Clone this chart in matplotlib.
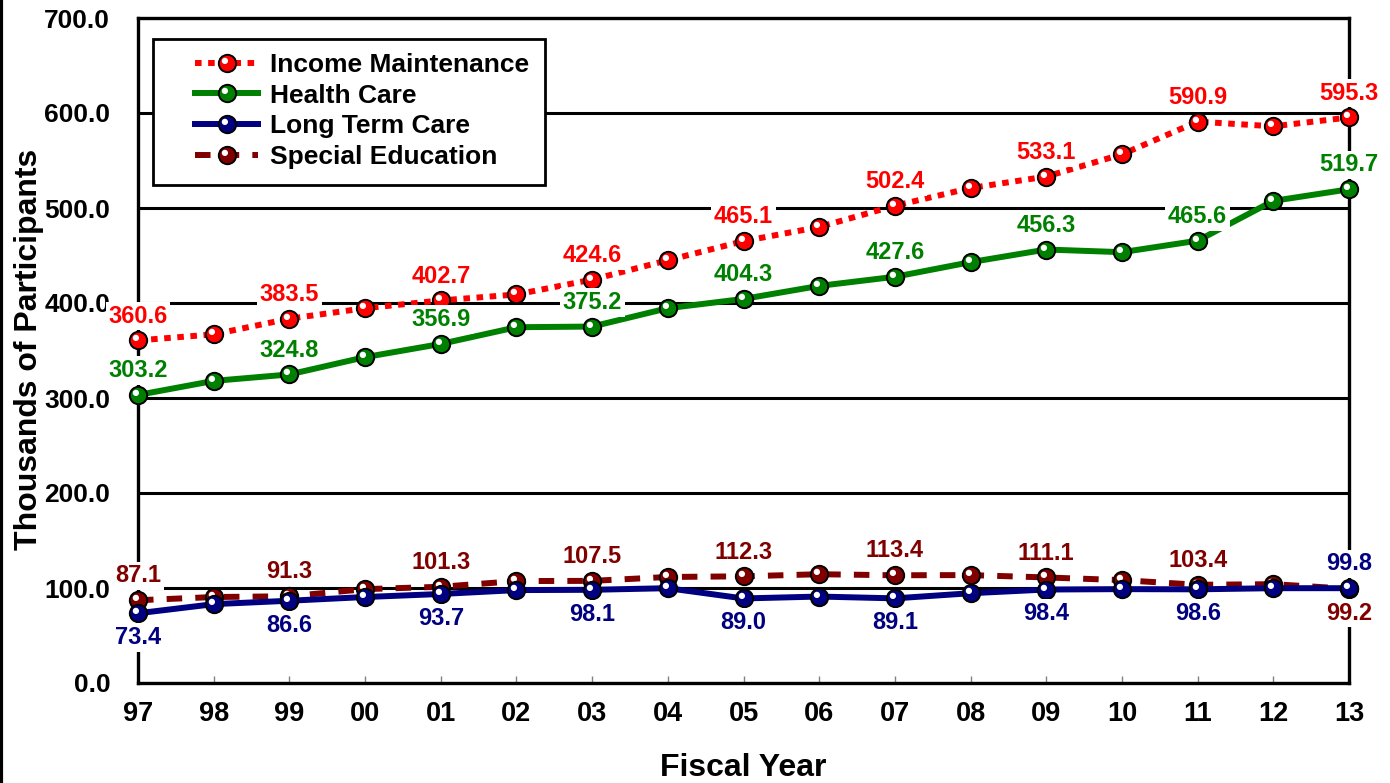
import numpy as np
import matplotlib
matplotlib.use('Agg')
import matplotlib.pyplot as plt
from matplotlib.path import Path
from matplotlib.patches import Rectangle
from matplotlib.lines import Line2D
from matplotlib.legend_handler import HandlerTuple

plt.rcParams['font.family'] = ['Liberation Sans', 'DejaVu Sans']
plt.rcParams['font.weight'] = 'bold'

years = ['97', '98', '99', '00', '01', '02', '03', '04', '05',
         '06', '07', '08', '09', '10', '11', '12', '13']

income = [360.6, 367.0, 383.5, 394.5, 402.7, 409.0, 424.6, 445.0, 465.1,
          480.0, 502.4, 521.0, 533.1, 556.5, 590.9, 586.0, 595.3]
health = [303.2, 318.0, 324.8, 343.0, 356.9, 374.5, 375.2, 394.5, 404.3,
          418.0, 427.6, 443.0, 456.3, 453.5, 465.6, 507.5, 519.7]
long_term = [73.4, 83.0, 86.6, 90.5, 93.7, 97.8, 98.1, 99.8, 89.0,
             91.0, 89.1, 94.5, 98.4, 98.8, 98.6, 99.8, 99.8]
special_ed = [87.1, 90.5, 91.3, 98.8, 101.3, 107.3, 107.5, 111.6, 112.3,
              114.5, 113.4, 113.6, 111.1, 108.3, 103.4, 104.0, 99.2]

# (label, values, colour, linestyle, label side: +1 above / -1 below)
series = [
    ('Income Maintenance', income, '#FF0000', (0, (1.1, 1.1)), 1),
    ('Health Care', health, '#008000', '-', 1),
    ('Long Term Care', long_term, '#000080', '-', -1),
    ('Special Education', special_ed, '#800000', (0, (2.6, 2.2)), 1),
]
zorders = {'Income Maintenance': 4, 'Health Care': 4,
           'Long Term Care': 4.2, 'Special Education': 4.1}

# small white highlight for the "glass ball" markers
circ = Path.circle((-0.3, 0.3), 0.36)
hl_verts = np.vstack([[[-1, -1], [1, 1]], circ.vertices])
hl_codes = [Path.MOVETO, Path.MOVETO] + list(circ.codes)
HIGHLIGHT = Path(hl_verts, hl_codes)

fig = plt.figure(figsize=(13.9, 7.83), dpi=100)
ax = fig.add_axes([138 / 1390, 1 - 683 / 783, (1349 - 138) / 1390, (683 - 18) / 783])

x = np.arange(len(years))
handles = []
for name, vals, col, ls, side in series:
    z = zorders[name]
    line, = ax.plot(x, vals, color=col, lw=4.3, linestyle=ls,
                    marker='o', markersize=12.5, markerfacecolor=col,
                    markeredgecolor='black', markeredgewidth=1.4,
                    zorder=z, clip_on=False)
    hl, = ax.plot(x, vals, linestyle='none', marker=HIGHLIGHT, markersize=12.5,
                  markerfacecolor='white', markeredgewidth=0,
                  zorder=z + 0.05, clip_on=False)
    handles.append((line, hl))

    for i in range(0, len(years), 2):
        s = side
        if i == len(years) - 1 and name == 'Long Term Care':
            s = 1
        if i == len(years) - 1 and name == 'Special Education':
            s = -1
        ax.annotate(f"{vals[i]:.1f}", xy=(x[i], vals[i]), xytext=(0, 17.5 * s),
                    textcoords='offset points', ha='center', va='center',
                    fontsize=17, fontweight='bold', color=col, zorder=6,
                    annotation_clip=False,
                    bbox=dict(boxstyle='square,pad=0.12', facecolor='white',
                              edgecolor='none'))

ax.set_xlim(0, len(years) - 1)
ax.set_ylim(0, 700)
ax.set_xticks(x)
ax.set_xticklabels(years)
ax.set_yticks(np.arange(0, 701, 100))
ax.set_yticklabels([f"{v:.1f}" for v in np.arange(0, 701, 100)])
ax.tick_params(axis='y', length=0, pad=20, labelsize=19)
ax.tick_params(axis='x', direction='in', length=5, width=1, color='#808080',
               pad=13, labelsize=19.5)
for lbl in ax.get_xticklabels() + ax.get_yticklabels():
    lbl.set_fontweight('bold')

ax.grid(True, axis='y', color='black', lw=2.2)
ax.set_axisbelow(True)
for sp in ax.spines.values():
    sp.set_linewidth(2.4)
    sp.set_color('black')

ax.set_xlabel('Fiscal Year', fontsize=23, fontweight='bold', labelpad=19)
ax.set_ylabel('Thousands of Participants', fontsize=23, fontweight='bold')
ax.yaxis.set_label_coords((44 - 138) / 1211, 0.502)

# legend box drawn separately to match the wide left padding
ax.add_patch(Rectangle(((153 - 138) / 1211, (683 - 185) / 665),
                       (545 - 153) / 1211, (185 - 39) / 665,
                       transform=ax.transAxes, facecolor='white',
                       edgecolor='black', lw=2, zorder=7, clip_on=False))
leg = ax.legend(handles, [s[0] for s in series], loc='upper left',
                bbox_to_anchor=((195 - 138) / 1211, (683 - 53) / 665),
                borderaxespad=0, borderpad=0, frameon=False,
                handler_map={tuple: HandlerTuple(ndivide=1)},
                handlelength=2.4, handletextpad=0.45, labelspacing=0.25,
                numpoints=1, prop={'size': 19, 'weight': 'bold'})
leg.set_zorder(8)

fig.add_artist(Line2D([0.001, 0.001], [0, 1], transform=fig.transFigure,
                      color='black', lw=3))

plt.savefig('out.png', dpi=100, facecolor='white')
plt.close()
